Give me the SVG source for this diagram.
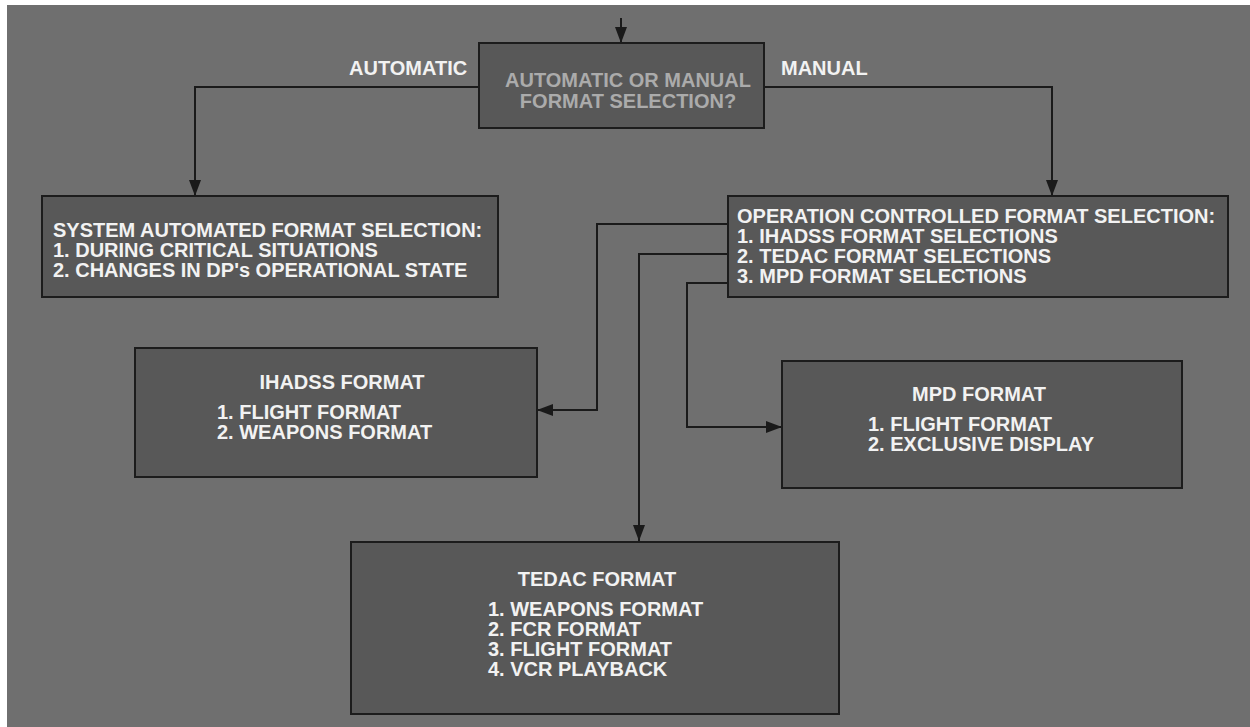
<svg xmlns="http://www.w3.org/2000/svg" width="1250" height="727" viewBox="0 0 1250 727">
  <style>
    .box { fill: #585858; stroke: #1c1c1c; stroke-width: 2; }
    .wire { fill: none; stroke: #1a1a1a; stroke-width: 2; }
    .t { font-family: "Liberation Sans", Arial, sans-serif; font-size: 20px; font-weight: bold; fill: #f2f2f2; }
    .q { fill: #ababab; }
    .mid { text-anchor: middle; }
  </style>
  <defs>
    <marker id="head" markerUnits="userSpaceOnUse" markerWidth="16" markerHeight="12" refX="16" refY="6" orient="auto">
      <path d="M0,0 L16,6 L0,12 Z" fill="#1a1a1a"/>
    </marker>
  </defs>

  <!-- page -->
  <rect x="0" y="0" width="1250" height="727" fill="#ffffff"/>
  <rect x="7" y="5" width="1243" height="722" fill="#6f6f6f"/>

  <!-- connectors -->
  <g id="connectors">
    <line class="wire" x1="621" y1="18" x2="621" y2="43" marker-end="url(#head)"/>
    <polyline class="wire" points="479,87 195,87 195,196" marker-end="url(#head)"/>
    <polyline class="wire" points="764,87 1052,87 1052,196" marker-end="url(#head)"/>
    <polyline class="wire" points="728,224 597,224 597,410 537,410" marker-end="url(#head)"/>
    <polyline class="wire" points="728,254 639,254 639,541" marker-end="url(#head)"/>
    <polyline class="wire" points="728,283 687,283 687,427 782,427" marker-end="url(#head)"/>
  </g>

  <!-- branch labels -->
  <g id="labels">
    <text class="t" x="349" y="75">AUTOMATIC</text>
    <text class="t" x="781" y="75">MANUAL</text>
  </g>

  <g id="decision">
    <rect class="box" x="479" y="43" width="285" height="85"/>
    <text class="t q mid" x="628" y="87">AUTOMATIC OR MANUAL</text>
    <text class="t q mid" x="628" y="108">FORMAT SELECTION?</text>
  </g>

  <g id="system-auto">
    <rect class="box" x="42" y="196" width="456" height="101"/>
    <text class="t" x="53" y="237">SYSTEM AUTOMATED FORMAT SELECTION:</text>
    <text class="t" x="53" y="257">1. DURING CRITICAL SITUATIONS</text>
    <text class="t" x="53" y="277">2. CHANGES IN DP's OPERATIONAL STATE</text>
  </g>

  <g id="operator-select">
    <rect class="box" x="728" y="196" width="500" height="101"/>
    <text class="t" x="737" y="223">OPERATION CONTROLLED FORMAT SELECTION:</text>
    <text class="t" x="737" y="243">1. IHADSS FORMAT SELECTIONS</text>
    <text class="t" x="737" y="263">2. TEDAC FORMAT SELECTIONS</text>
    <text class="t" x="737" y="283">3. MPD FORMAT SELECTIONS</text>
  </g>

  <g id="ihadss">
    <rect class="box" x="135" y="348" width="402" height="129"/>
    <text class="t mid" x="342" y="389">IHADSS FORMAT</text>
    <text class="t" x="217" y="419">1. FLIGHT FORMAT</text>
    <text class="t" x="217" y="439">2. WEAPONS FORMAT</text>
  </g>

  <g id="mpd">
    <rect class="box" x="782" y="361" width="400" height="127"/>
    <text class="t mid" x="979" y="401">MPD FORMAT</text>
    <text class="t" x="868" y="431">1. FLIGHT FORMAT</text>
    <text class="t" x="868" y="451">2. EXCLUSIVE DISPLAY</text>
  </g>

  <g id="tedac">
    <rect class="box" x="351" y="542" width="488" height="172"/>
    <text class="t mid" x="597" y="586">TEDAC FORMAT</text>
    <text class="t" x="488" y="616">1. WEAPONS FORMAT</text>
    <text class="t" x="488" y="636">2. FCR FORMAT</text>
    <text class="t" x="488" y="656">3. FLIGHT FORMAT</text>
    <text class="t" x="488" y="676">4. VCR PLAYBACK</text>
  </g>
</svg>
